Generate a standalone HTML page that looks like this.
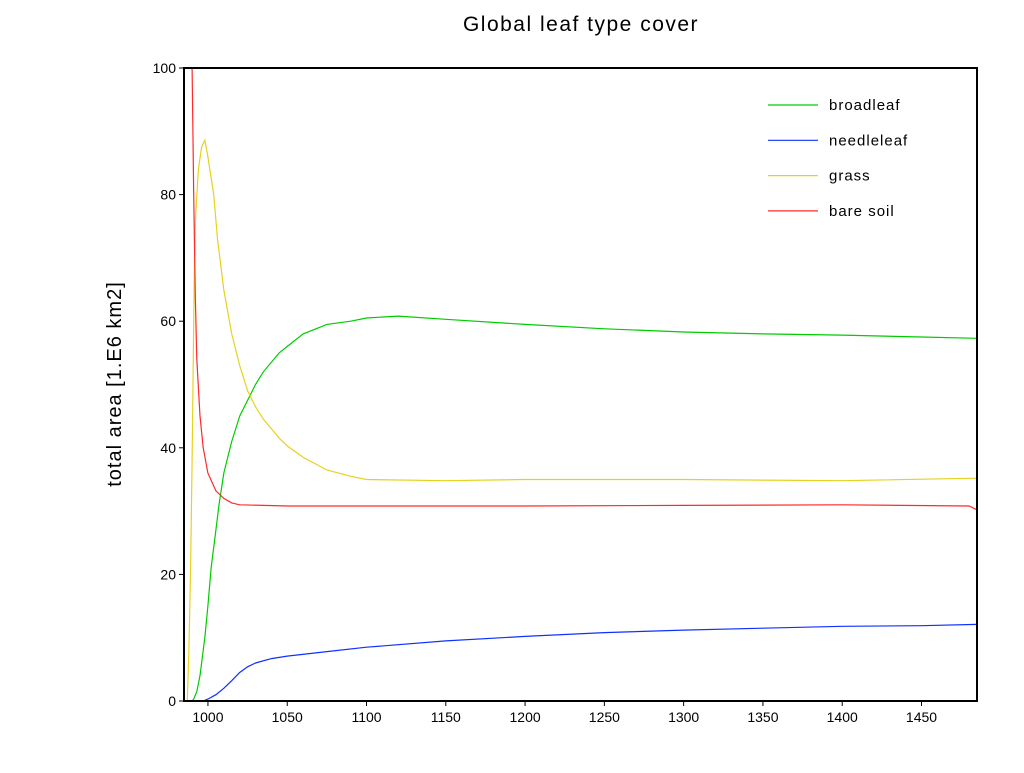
<!DOCTYPE html>
<html><head><meta charset="utf-8"><style>
html,body{margin:0;padding:0;background:#fff;}
svg text{font-family:"Liberation Sans",sans-serif;fill:#000;}
</style></head><body>
<svg id="chart" width="1024" height="768" xmlns="http://www.w3.org/2000/svg">
<text x="581" y="31" text-anchor="middle" font-size="21" letter-spacing="1.5">Global leaf type cover</text>
<text transform="translate(121,384) rotate(-90)" text-anchor="middle" font-size="20" letter-spacing="1">total area [1.E6 km2]</text>
<g id="plot"></g>
<g id="legend"></g>
</svg>
<script>
const broadYears = [984,990,991,993,995,998,1000,1002,1005,1007,1010,1015,1020,1025,1030,1035,1040,1045,1050,1060,1075,1090,1100,1120,1150,1200,1250,1300,1350,1400,1450,1485];
const broadVals  = [0,0,0.3,1.5,4,10,15,21,27,31,36,41,45,47.5,50,52,53.5,55,56,58,59.5,60,60.5,60.8,60.3,59.5,58.8,58.3,58,57.8,57.5,57.3];
const needleYears = [984,997,1000,1005,1010,1015,1020,1025,1030,1040,1050,1075,1100,1150,1200,1250,1300,1350,1400,1450,1485];
const needleVals  = [0,0,0.3,1,2,3.2,4.5,5.4,6,6.7,7.1,7.8,8.5,9.5,10.2,10.8,11.2,11.5,11.8,11.9,12.1];
const grassYears = [984,987,988,989,990,991.3,992.1,994,996,998,1000,1003.6,1006,1010,1015,1020,1025,1030,1035,1040,1045,1050,1060,1075,1090,1100,1150,1200,1300,1400,1485];
const grassVals  = [0,0,8,20,38,65,76,84,87.5,88.6,86,80,73,65,58,53,49,46.5,44.5,43,41.5,40.3,38.5,36.5,35.5,35,34.8,35,35,34.8,35.2];
const soilYears = [990,991,992,993,995,997,1000,1005,1010,1015,1020,1050,1100,1200,1300,1400,1480,1485];
const soilVals  = [100,80,64,54,45,40,36,33.2,32,31.3,31,30.8,30.8,30.8,30.9,31,30.8,30.2];
const xTicks = [1000,1050,1100,1150,1200,1250,1300,1350,1400,1450];
const yTicks = [0,20,40,60,80,100];
const seriesNames = ['broadleaf','needleleaf','grass','bare soil'];

const L=184,R=977,T=68,B=701,X0=984.9,X1=1485,Y0=0,Y1=100;
const xs=v=>L+(v-X0)/(X1-X0)*(R-L);
const ys=v=>B-(v-Y0)/(Y1-Y0)*(B-T);
const NS='http://www.w3.org/2000/svg';
const plot=document.getElementById('plot');
const legend=document.getElementById('legend');
function mk(tag,attrs,parent){const e=document.createElementNS(NS,tag);for(const k in attrs)e.setAttribute(k,attrs[k]);parent.appendChild(e);return e;}

const defs=mk('defs',{},plot);
const cp=mk('clipPath',{id:'clip'},defs);
mk('rect',{x:L,y:T,width:R-L,height:B-T},cp);

const series=[
 {years:broadYears,vals:broadVals,color:'#00cc00'},
 {years:needleYears,vals:needleVals,color:'#1030ff'},
 {years:grassYears,vals:grassVals,color:'#e6d21e'},
 {years:soilYears,vals:soilVals,color:'#ff2a2a'}
];
series.forEach((s,i)=>{
 const pts=s.years.map((y,j)=>xs(y).toFixed(1)+','+ys(s.vals[j]).toFixed(1)).join(' ');
 const p=mk('polyline',{points:pts,fill:'none',stroke:s.color,'stroke-width':1.2,'clip-path':'url(#clip)'},plot);
 
 
 const ly=105+i*35.3;
 const ll=mk('line',{x1:768,x2:818,y1:ly,y2:ly,stroke:s.color,'stroke-width':1.2},legend);
 
 
 const lt=mk('text',{x:829,y:ly+5,'font-size':15,'letter-spacing':1},legend);
 lt.textContent=seriesNames[i];
 
 
});

const frame=mk('rect',{x:L,y:T,width:R-L,height:B-T,fill:'none',stroke:'#000','stroke-width':2},plot);


xTicks.forEach(t=>{
 const x=xs(t);
 const tk=mk('line',{x1:x,x2:x,y1:B,y2:B+5,stroke:'#000','stroke-width':1},plot);
 
 
 const tx=mk('text',{x:x,y:B+21,'text-anchor':'middle','font-size':14},plot);
 tx.textContent=t;
 
 
});
yTicks.forEach(t=>{
 const y=ys(t);
 const tk=mk('line',{x1:L-5,x2:L,y1:y,y2:y,stroke:'#000','stroke-width':1},plot);
 
 
 const tx=mk('text',{x:L-8,y:y+5,'text-anchor':'end','font-size':14},plot);
 tx.textContent=t;
 
 
});
</script>
</body></html>
